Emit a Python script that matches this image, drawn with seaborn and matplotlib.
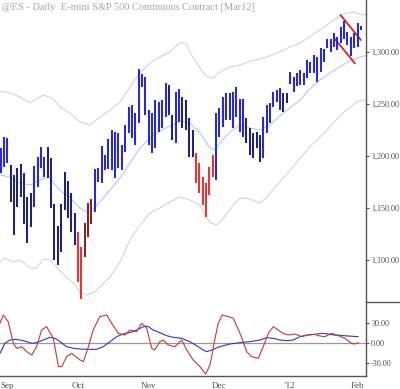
import numpy as np
import pandas as pd
import matplotlib
matplotlib.use("Agg")
import matplotlib.pyplot as plt
import seaborn as sns
from matplotlib.lines import Line2D

sns.set_style("white")
plt.rcParams['font.family'] = ['Liberation Serif', 'DejaVu Serif']

# ---------------- data ----------------
title = "@ES - Daily  E-mini S&P 500 Continuous Contract [Mar12]"
holidays = ["2011-09-05", "2011-11-24", "2011-12-26", "2012-01-02", "2012-01-16"]
start_date = "2011-08-30"
end_date = "2012-02-02"
month_labels = ["Sep", "Oct", "Nov", "Dec", "'12", "Feb"]

high = [1207.7, 1218.3, 1217.3, 1191.3, 1181.7, 1188.5, 1192.3, 1183.7, 1160.6, 1164.4,
        1190.4, 1199.0, 1208.7, 1199.0, 1208.7, 1198.1, 1153.9, 1132.7, 1153.9, 1184.6,
        1176.0, 1164.4, 1145.2, 1126.9, 1112.5, 1135.6, 1154.8, 1158.7, 1187.5, 1188.5,
        1209.6, 1201.0, 1216.3, 1225.0, 1223.1, 1222.1, 1210.6, 1229.8, 1247.1, 1249.0,
        1241.3, 1283.7, 1278.8, 1276.0, 1244.2, 1241.3, 1253.8, 1251.9, 1253.8, 1270.2,
        1268.3, 1239.4, 1261.5, 1264.4, 1256.7, 1253.8, 1236.5, 1225.0, 1202.9, 1193.3,
        1179.8, 1174.0, 1189.4, 1201.0, 1241.3, 1246.2, 1256.7, 1260.6, 1260.6, 1261.5,
        1266.3, 1254.8, 1254.8, 1236.5, 1226.9, 1222.1, 1223.1, 1220.2, 1237.5, 1249.0,
        1251.0, 1261.5, 1263.5, 1265.4, 1260.6, 1260.6, 1280.8, 1276.0, 1279.8, 1282.7,
        1279.8, 1292.3, 1290.4, 1297.1, 1295.2, 1303.8, 1302.9, 1312.5, 1312.5, 1318.3,
        1314.4, 1324.0, 1329.8, 1319.2, 1314.4, 1318.3, 1327.9, 1325.0]
low = [1183.7, 1189.4, 1193.3, 1155.8, 1124.0, 1151.0, 1160.6, 1134.6, 1116.4, 1131.7,
       1151.0, 1170.2, 1188.5, 1179.8, 1178.9, 1150.0, 1100.0, 1095.2, 1107.7, 1148.1,
       1140.4, 1126.9, 1114.4, 1078.9, 1062.5, 1102.9, 1122.1, 1134.6, 1146.2, 1175.0,
       1174.0, 1186.5, 1187.5, 1186.5, 1178.9, 1188.5, 1186.5, 1203.8, 1222.1, 1217.3,
       1210.6, 1231.7, 1266.3, 1239.4, 1210.6, 1202.9, 1207.7, 1223.1, 1226.9, 1237.5,
       1239.4, 1215.4, 1212.5, 1232.7, 1226.9, 1225.0, 1199.0, 1199.0, 1174.0, 1164.4,
       1152.9, 1141.3, 1162.5, 1179.8, 1176.9, 1218.3, 1227.9, 1234.6, 1234.6, 1226.9,
       1237.5, 1223.1, 1218.3, 1212.5, 1201.0, 1198.1, 1207.7, 1194.2, 1198.1, 1222.1,
       1231.7, 1247.1, 1251.9, 1244.2, 1242.3, 1251.0, 1269.2, 1261.5, 1267.3, 1268.3,
       1268.3, 1275.0, 1279.8, 1279.8, 1271.2, 1280.8, 1290.4, 1303.8, 1300.0, 1304.8,
       1301.9, 1308.7, 1312.5, 1306.7, 1296.2, 1303.8, 1304.8, 1321.2]
bar_state = ("BBB" + "D" * 7 + "BBBB" + "D" * 9 + "RR" + "rrr" + "B" * 22 + "DD" + "BB"
             + "DDDD" + "R" * 6 + "B" * 9 + "D" * 5 + "B" * 6 + "DD" + "B" * 22)

upper_t = [-0.15, 2.8, 5.8, 8.8, 12.6, 15.3, 17.7, 20.6, 23.6, 26.6, 29.5, 32.5, 35.5, 38.4,
           41.4, 44.4, 47.3, 50.3, 53.3, 55.0, 56.2, 59.2, 61.3, 63.1, 65.1, 68.1, 71.1, 74.0,
           77.0, 80.0, 82.9, 85.9, 88.9, 91.8, 94.8, 97.8, 100.7, 102.8, 104.6, 106.7, 108.5]
upper_v = [1262.5, 1260.6, 1256.7, 1251.0, 1258.7, 1255.8, 1247.1, 1241.3, 1232.7, 1229.8,
           1237.5, 1244.2, 1251.9, 1266.3, 1279.8, 1289.4, 1295.2, 1300.0, 1308.7, 1308.7,
           1300.0, 1284.6, 1276.0, 1275.0, 1280.8, 1285.6, 1287.5, 1291.3, 1293.3, 1296.2,
           1300.0, 1304.8, 1308.7, 1314.4, 1321.2, 1327.9, 1334.6, 1337.5, 1338.5, 1336.5, 1335.6]
lower_t = [-0.15, 1.3, 3.7, 5.8, 8.8, 10.8, 12.6, 14.7, 16.8, 18.2, 20.6, 22.1, 23.6, 25.7,
           28.0, 29.5, 32.5, 35.5, 38.4, 41.4, 44.4, 47.3, 50.3, 53.3, 56.2, 59.2, 60.7, 62.2,
           64.2, 65.7, 68.7, 71.1, 74.0, 77.0, 79.1, 82.1, 86.8, 91.8, 96.9, 101.6, 105.8, 108.5]
lower_v = [1098.1, 1101.9, 1098.1, 1100.0, 1092.3, 1092.3, 1101.0, 1100.0, 1092.3, 1087.5,
           1080.8, 1076.0, 1068.3, 1066.3, 1069.2, 1074.1, 1083.7, 1098.1, 1119.2, 1133.7,
           1145.2, 1150.0, 1155.8, 1160.6, 1157.7, 1152.9, 1143.3, 1135.6, 1133.7, 1138.5,
           1151.0, 1159.6, 1158.7, 1154.8, 1160.6, 1172.1, 1189.4, 1208.7, 1225.0, 1241.3,
           1251.9, 1254.5]
mid_t = [-0.15, 2.8, 5.8, 8.8, 11.7, 14.7, 16.2, 18.2, 20.6, 22.1, 23.6, 25.7, 27.2, 29.5,
         32.5, 35.5, 38.4, 41.4, 44.4, 47.3, 50.3, 53.3, 56.2, 59.2, 62.2, 63.7, 65.1, 68.1,
         71.1, 74.0, 77.0, 80.0, 82.9, 85.9, 88.9, 91.8, 94.8, 97.8, 100.7, 103.7, 106.7, 108.5]
mid_v = [1181.7, 1179.8, 1174.0, 1172.1, 1176.9, 1179.8, 1172.1, 1165.4, 1160.6, 1154.8,
         1150.0, 1146.2, 1148.1, 1155.8, 1167.3, 1178.9, 1193.3, 1207.7, 1217.3, 1224.0,
         1228.8, 1233.7, 1231.7, 1222.1, 1207.7, 1205.8, 1212.5, 1223.1, 1229.8, 1226.9,
         1225.0, 1229.8, 1238.5, 1246.2, 1253.8, 1264.4, 1273.1, 1279.8, 1285.6, 1291.3,
         1295.2, 1296.5]

trend_upper_t = [100.9, 107.0]
trend_upper_v = [1335.6, 1311.5]
trend_lower_t = [99.1, 105.2]
trend_lower_v = [1313.2, 1289.1]

osc_t = [-0.15, 0.83, 2.3, 3.8, 4.8, 6.3, 7.8, 9.3, 10.7, 12.2, 13.7, 15.7, 17.2, 18.2, 19.6,
         21.1, 23.6, 24.6, 26.1, 27.5, 29.5, 31.5, 33.0, 35.0, 36.9, 38.4, 40.4, 41.9, 43.4,
         44.9, 45.8, 47.3, 48.3, 49.8, 51.8, 53.8, 55.3, 57.2, 59.2, 60.9, 62.2, 63.6, 64.6,
         65.8, 67.6, 69.1, 71.1, 73.1, 74.5, 76.5, 78.0, 79.5, 81.0, 82.4, 83.9, 85.4, 87.4,
         89.4, 91.3, 93.3, 94.8, 96.3, 98.3, 99.8, 102.2, 104.2, 105.2, 106.2]
osc_v = [29.5, 42, 32, -0.5, -8, -5.5, -13, -18, -5.5, 19.5, 24.5, 7, -35.5, -35.5, -20.5,
         -15.5, -25.5, -28, -5.5, 19.5, 39.5, 42, 29.5, 14.5, 12, 19.5, 17, 29.5, 22, -8,
         -10.5, 2, 4.5, -3, -5.5, 4.5, -10.5, -25.5, -35.5, -46.5, -33, 4.5, 29.5, 42, 39.5,
         37, 14.5, -13, -20.5, -23, -5.5, 14.5, 24.5, 19.5, 14.5, 12, 13.5, 9.5, 12, 13,
         10.5, 9.5, 14.5, 12, 7, -0.5, -1.5, 0.5]
sig_t = [-0.15, 1.3, 2.8, 4.3, 5.8, 7.8, 9.3, 10.7, 12.7, 14.7, 16.2, 17.7, 19.6, 21.6, 23.6,
         26.1, 28.5, 30.5, 32.5, 34.5, 36.4, 39.4, 41.4, 42.9, 43.9, 45.3, 47.3, 49.3, 51.3,
         53.8, 56.2, 58.2, 60.2, 61.2, 62.7, 65.1, 68.1, 71.1, 74.0, 77.0, 79.0, 81.0, 82.9,
         84.9, 86.9, 88.9, 90.9, 93.3, 95.3, 97.3, 98.8, 100.7, 103.2, 106.2]
sig_v = [-15.5, -0.5, 4.5, 5.5, 4.5, 2, -0.5, 0.5, 4.5, 8.5, 7, 2, -5.5, -8, -9, -9.5, -9.5,
         -5.5, 2, 9.5, 13.5, 17, 22, 25.5, 24.5, 19.5, 15.5, 11, 8.5, 7, 2, -4, -10.5, -13,
         -10.5, -5.5, -1.5, 0.5, 2, 4.5, 8, 7, 4.5, 3.5, 4.5, 9.5, 12, 13, 14.5, 13.5, 12,
         11.5, 10.5, 9.5]

price_ticks = [1100, 1150, 1200, 1250, 1300]
osc_ticks = [-30, 0, 30]

# ---------------- derived ----------------
dates = pd.bdate_range(start_date, end_date)
dates = dates[~dates.isin(pd.to_datetime(holidays))]
idx = np.arange(len(dates))
month_pos = [i for i in idx if i == 0 or dates[i].month != dates[i - 1].month][1:]
monday_pos = [i for i in idx if dates[i].weekday() == 0 or
              (i > 0 and dates[i].weekday() < dates[i - 1].weekday() and dates[i].weekday() != 0)]
color_map = {"B": "#2626f2", "D": "#20208a", "R": "#f23030", "r": "#8a2222"}
bar_colors = [color_map[c] for c in bar_state]

W, H = 400, 389
fig = plt.figure(figsize=(W / 100, H / 100), dpi=100)
ax = fig.add_axes([0, 1 - 302 / H, 366 / W, 302 / H])
ax2 = fig.add_axes([0, 1 - 376 / H, 366 / W, 74 / H])
xlim = (-0.15, 108.5)

# bands
sns.lineplot(x=upper_t, y=upper_v, ax=ax, color="#d2d2d2", lw=0.75, estimator=None, sort=False)
sns.lineplot(x=lower_t, y=lower_v, ax=ax, color="#d2d2d2", lw=0.75, estimator=None, sort=False)
sns.lineplot(x=mid_t, y=mid_v, ax=ax, color="#aecbef", lw=0.8, estimator=None, sort=False)
# bars
ax.vlines(idx, low, high, colors=bar_colors, lw=1.45, zorder=3)
# trend channel
sns.lineplot(x=trend_upper_t, y=trend_upper_v, ax=ax, color="#e02020", lw=1.3, estimator=None)
sns.lineplot(x=trend_lower_t, y=trend_lower_v, ax=ax, color="#e02020", lw=1.3, estimator=None)

ax.set_xlim(*xlim)
ax.set_ylim(1059.6, 1350)
for s in ["top", "left", "bottom"]:
    ax.spines[s].set_visible(False)
ax.spines["right"].set_color("#555555")
ax.spines["right"].set_linewidth(1.0)
ax.yaxis.tick_right()
ax.set_yticks(price_ticks)
ax.set_yticklabels([f"{v:,.2f}" for v in price_ticks])
ax.tick_params(axis="y", direction="out", length=2.5, width=0.8, color="#555555",
               labelsize=5.9, labelcolor="#505050", pad=1.2)
ax.set_xticks([])
ax.set_xlabel("")
ax.set_ylabel("")

# oscillator panel
ax2.axhline(0, color="#9a9a9a", lw=0.9)
sns.lineplot(x=sig_t, y=sig_v, ax=ax2, color="#3434c8", lw=0.8, estimator=None, sort=False)
sns.lineplot(x=osc_t, y=osc_v, ax=ax2, color="#c23a3a", lw=0.8, estimator=None, sort=False)
ax2.set_xlim(*xlim)
ax2.set_ylim(-49.5, 61.5)
ax2.spines["top"].set_visible(False)
ax2.spines["left"].set_visible(False)
for s in ["right", "bottom"]:
    ax2.spines[s].set_color("#555555")
    ax2.spines[s].set_linewidth(1.0)
ax2.yaxis.tick_right()
ax2.set_yticks(osc_ticks)
ax2.set_yticklabels([f"{v:.2f}" for v in osc_ticks])
ax2.tick_params(axis="y", direction="out", length=2.5, width=0.8, color="#555555",
                labelsize=5.9, labelcolor="#505050", pad=1.2)
ax2.set_xticks(month_pos)
ax2.set_xticklabels(month_labels)
ax2.set_xticks(monday_pos, minor=True)
ax2.tick_params(axis="x", which="both", direction="out", length=3, width=0.8,
                color="#555555", labelsize=6.5, labelcolor="#505050", pad=1)
ax2.set_xlabel("")
ax2.set_ylabel("")

fig.add_artist(Line2D([366 / W, 1], [1 - 302 / H, 1 - 302 / H], color="#555555", lw=1.0))
fig.text(2 / W, 1 - 8 / H, title, color="#a6a6a6", fontsize=7.5, va="center", ha="left")

fig.savefig("out.png", dpi=100)
